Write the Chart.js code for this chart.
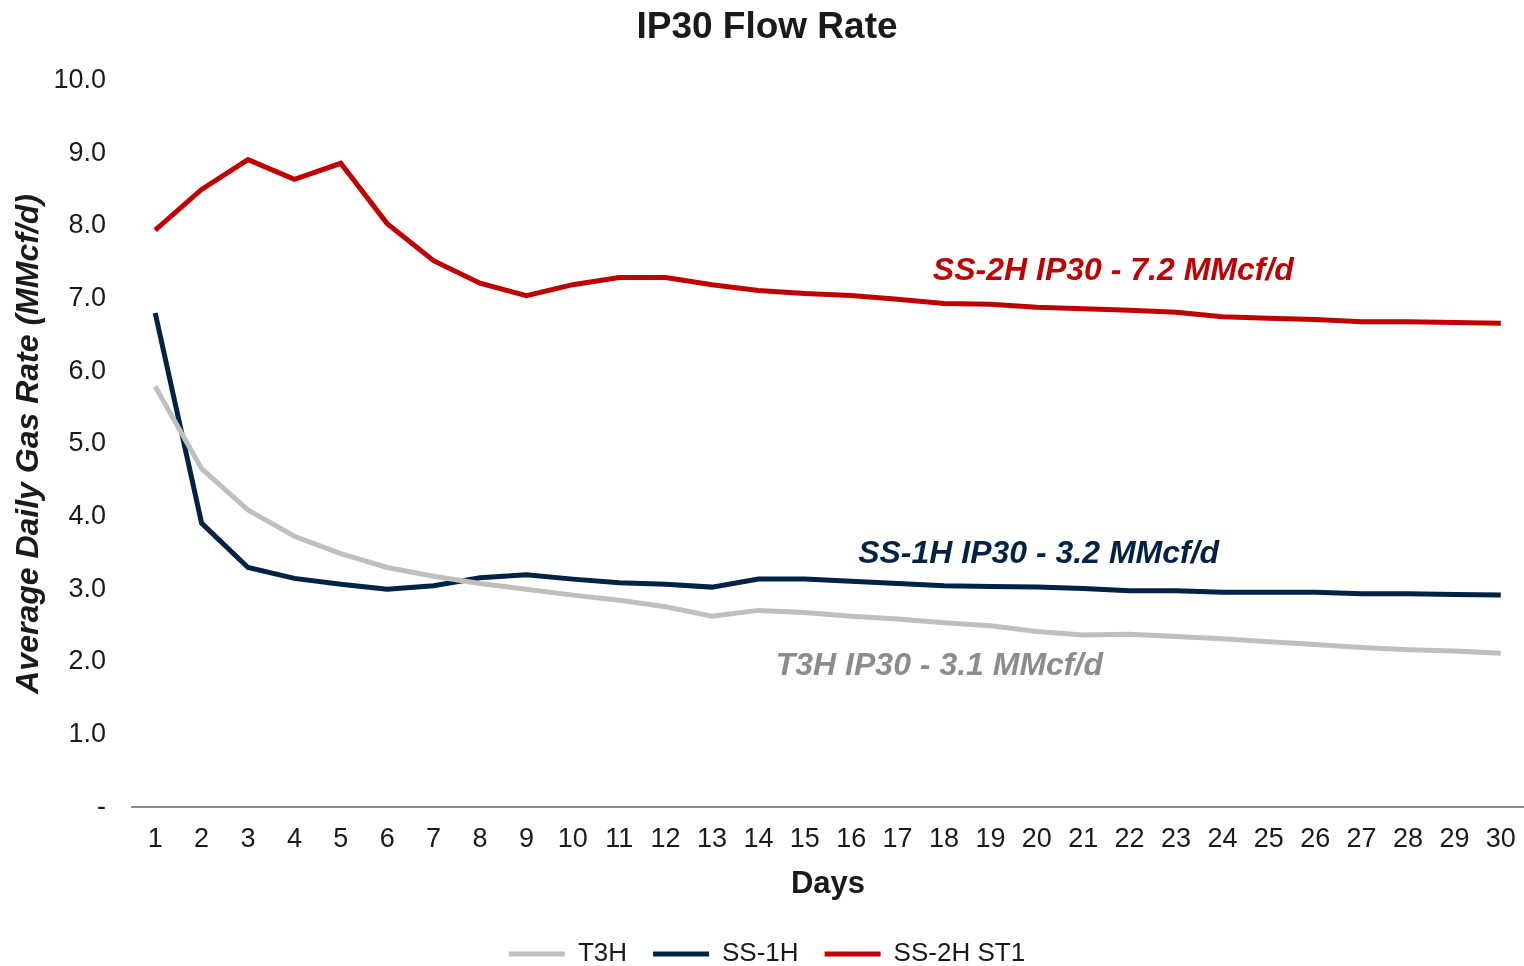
<!DOCTYPE html>
<html lang="en">
<head>
  <meta charset="UTF-8">
  <title>IP30 Flow Rate</title>
  <script src="https://cdn.jsdelivr.net/npm/chart.js"></script>
  <style>
    html, body {
      margin: 0;
      padding: 0;
      background: #ffffff;
    }
    .chart-container {
      width: 1524px;
      height: 966px;
    }
  </style>
</head>
<body>
  <div class="chart-container"><canvas id="ip30"></canvas></div>

  <script>
    const days = Array.from({ length: 30 }, (_, i) => String(i + 1));

    const t3h = [5.79, 4.66, 4.09, 3.73, 3.49, 3.30, 3.18, 3.08, 3.00, 2.92,
                 2.85, 2.76, 2.63, 2.71, 2.68, 2.63, 2.59, 2.54, 2.50, 2.42,
                 2.37, 2.38, 2.35, 2.32, 2.28, 2.24, 2.20, 2.17, 2.15, 2.12];

    const ss1h = [6.80, 3.91, 3.30, 3.15, 3.07, 3.00, 3.05, 3.16, 3.20, 3.14,
                  3.09, 3.07, 3.03, 3.14, 3.14, 3.11, 3.08, 3.05, 3.04, 3.03,
                  3.01, 2.98, 2.98, 2.96, 2.96, 2.96, 2.94, 2.94, 2.93, 2.92];

    const ss2h = [7.94, 8.50, 8.91, 8.64, 8.86, 8.03, 7.52, 7.21, 7.04, 7.19,
                  7.29, 7.29, 7.19, 7.11, 7.07, 7.04, 6.99, 6.93, 6.92, 6.88,
                  6.86, 6.84, 6.81, 6.75, 6.73, 6.71, 6.68, 6.68, 6.67, 6.66];

    const seriesNames = ["T3H", "SS-1H", "SS-2H ST1"];
    const seriesColors = ["#BFBFBF", "#002345", "#C00000"];

    const noteTexts = ["SS-2H IP30 - 7.2 MMcf/d", "SS-1H IP30 - 3.2 MMcf/d", "T3H IP30 - 3.1 MMcf/d"];
    const noteColors = ["#C00000", "#002345", "#8C8C8C"];

    // labels written onto the plot, anchored to (day index, value)
    const notePlugin = {
      id: "notes",
      afterDatasetsDraw(chart) {
        const { ctx, scales } = chart;
        const anchors = [[20.65, 7.38], [19.04, 3.48], [16.9, 1.94]];
        ctx.save();
        ctx.font = "italic bold 32px 'Liberation Sans', Arial, sans-serif";
        ctx.textAlign = "center";
        ctx.textBaseline = "middle";
        noteTexts.forEach((txt, i) => {
          ctx.fillStyle = noteColors[i];
          ctx.fillText(txt, scales.x.getPixelForValue(anchors[i][0]), scales.y.getPixelForValue(anchors[i][1]));
        });
        ctx.restore();
      }
    };

    function makeDataset(label, data, color) {
      return {
        label: label,
        data: data,
        borderColor: color,
        backgroundColor: color,
        borderWidth: 5,
        pointRadius: 0,
        tension: 0,
        fill: false
      };
    }

    Chart.defaults.font.family = "'Liberation Sans', Arial, sans-serif";
    Chart.defaults.color = "#1a1a1a";

    new Chart(document.getElementById("ip30"), {
      type: "line",
      data: {
        labels: days,
        datasets: [
          makeDataset(seriesNames[0], t3h, seriesColors[0]),
          makeDataset(seriesNames[1], ss1h, seriesColors[1]),
          makeDataset(seriesNames[2], ss2h, seriesColors[2])
        ]
      },
      plugins: [notePlugin],
      options: {
        responsive: true,
        maintainAspectRatio: false,
        animation: false,
        layout: { padding: { left: 8, right: -2, top: 0, bottom: -11 } },
        plugins: {
          title: {
            display: true,
            text: "IP30 Flow Rate",
            font: { size: 37, weight: "bold" },
            color: "#1a1a1a",
            padding: { top: 6, bottom: 30 }
          },
          legend: {
            position: "bottom",
            labels: {
              usePointStyle: true,
              pointStyle: "line",
              pointStyleWidth: 56,
              font: { size: 26 },
              color: "#1a1a1a",
              padding: 26
            }
          },
          tooltip: { enabled: false }
        },
        scales: {
          x: {
            offset: true,
            grid: { display: false, drawTicks: false, offset: true },
            border: { display: true, color: "#8c8c8c", width: 2 },
            ticks: { font: { size: 27 }, color: "#1a1a1a", padding: 16, maxRotation: 0, autoSkip: false },
            title: {
              display: true,
              text: "Days",
              font: { size: 31, weight: "bold" },
              color: "#1a1a1a",
              padding: { top: -6, bottom: 12 }
            },
            afterFit(scale) { scale.paddingLeft = 0; scale.paddingRight = 0; }
          },
          y: {
            min: 0,
            max: 10,
            grid: { display: false, drawTicks: false },
            border: { display: false },
            ticks: {
              stepSize: 1,
              font: { size: 27 },
              color: "#1a1a1a",
              padding: 26,
              callback: v => v === 0 ? "-" : v.toFixed(1)
            },
            title: {
              display: true,
              text: "Average Daily Gas Rate (MMcf/d)",
              font: { size: 32, weight: "bold", style: "italic" },
              color: "#1a1a1a",
              padding: { top: 2, bottom: 0 }
            },
            afterFit(scale) { scale.width = 124; }
          }
        }
      }
    });
  </script>
</body>
</html>
